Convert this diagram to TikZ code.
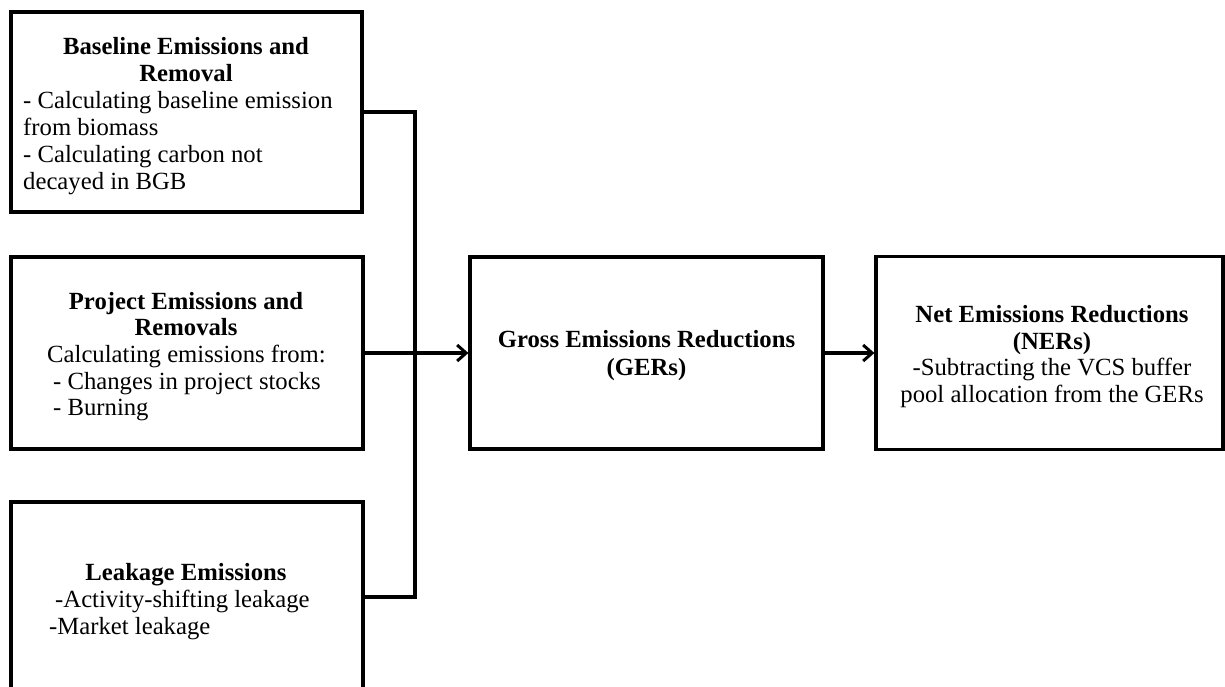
\documentclass[tikz,border=0pt]{standalone}
\usepackage{fontspec}
\setmainfont{Liberation Serif}
\usetikzlibrary{arrows.meta}
\begin{document}
\begin{tikzpicture}[x=1pt,y=-1pt,
  box/.style={draw, line width=3.2pt, rectangle, inner sep=0pt},
  txt/.style={inner sep=0pt, font=\fontsize{24.7}{27}\selectfont, anchor=base},
  txtl/.style={txt, anchor=base west},
  hd/.style={txt, font=\fontsize{24.7}{27}\selectfont\bfseries},
  link/.style={line width=3.2pt},
  arr/.style={link, -{Straight Barb[length=9pt,width=16pt,line width=3pt]}}
]
\path[use as bounding box] (0,0) rectangle (1225,686);
\clip (0,0) rectangle (1225,686);

% input boxes
\node[box, minimum width=351pt, minimum height=200pt] (base) at (186.5,112) {};
\node[box, minimum width=352pt, minimum height=192pt] (proj) at (187,353) {};
\node[box, minimum width=352pt, minimum height=218pt] (leak) at (187,611) {};

% result boxes
\node[box, minimum width=353pt, minimum height=192pt] (ger) at (646.5,353) {};
\node[box, minimum width=347pt, minimum height=193pt] (ner) at (1049.5,353) {};

% baseline box text
\node[hd] (baseH1) at (186,54) {Baseline Emissions and};
\node[hd] (baseH2) at (186,81) {Removal};
\node[txtl] (baseL1) at (23,108) {- Calculating baseline emission};
\node[txtl] (baseL2) at (23,135) {from biomass};
\node[txtl] (baseL3) at (23,162) {- Calculating carbon not};
\node[txtl] (baseL4) at (23,189) {decayed in BGB};

% project box text
\node[hd] (projH1) at (186,309) {Project Emissions and};
\node[hd] (projH2) at (186,335) {Removals};
\node[txtl] (projL1) at (47,362) {Calculating emissions from:};
\node[txtl] (projL2) at (53,389) {- Changes in project stocks};
\node[txtl] (projL3) at (53,415) {- Burning};

% leakage box text
\node[hd] (leakH) at (186,580) {Leakage Emissions};
\node[txtl] (leakL1) at (55,607) {-Activity-shifting leakage};
\node[txtl] (leakL2) at (49,634) {-Market leakage};

% gross reductions text
\node[hd] (gerH1) at (646.5,347) {Gross Emissions Reductions};
\node[hd] (gerH2) at (646.5,375) {(GERs)};

% net reductions text
\node[hd] (nerH1) at (1052,322) {Net Emissions Reductions};
\node[hd] (nerH2) at (1052,349) {(NERs)};
\node[txt] (nerL1) at (1052,375) {-Subtracting the VCS buffer};
\node[txt] (nerL2) at (1052,402) {pool allocation from the GERs};

% collecting bus and connectors
\coordinate (bus) at (415,353);
\coordinate (leakOut) at (363,597);
\draw[link] (base.east) -| (bus);
\draw[link] (leakOut) -| (bus);
\draw[link] (proj.east) -- (bus);
\draw[arr] (bus) -- (ger.west);
\draw[arr] (ger.east) -- (ner.west);
\end{tikzpicture}
\end{document}
